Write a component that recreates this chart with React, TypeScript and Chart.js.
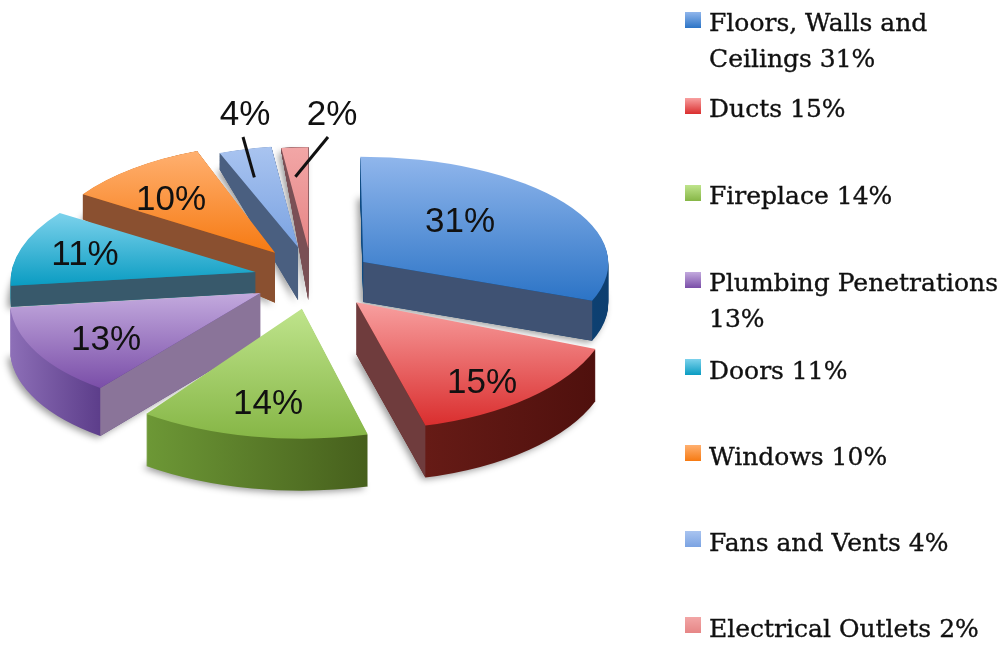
import React, { useEffect, useRef } from "react";
import { Chart, registerables } from "chart.js";

Chart.register(...registerables);

const categories = ["Floors, Walls and Ceilings", "Ducts", "Fireplace", "Plumbing Penetrations", "Doors", "Windows", "Fans and Vents", "Electrical Outlets"];
const shares = [31, 15, 14, 13, 11, 10, 4, 2];

// styling of each slice
const faceTop = ["#90b6ec", "#f8a0a0", "#bfe48c", "#c3aade", "#7cd2ec", "#ffb070", "#a9c4f0", "#f2a6a6"];
const faceBottom = ["#2c74c6", "#da2e2e", "#86b646", "#7a4ea8", "#0a9cc2", "#f67a12", "#7ba3e2", "#e68686"];
const wallColor = ["#3f5273", "#6f3c3d", "#5c7a30", "#8a7499", "#38596b", "#8a5030", "#4a5f80", "#7a5055"];
const rimLeft = ["#0d4a82", "#661b16", "#6d9836", "#8e70b8", "#1c7f9a", "#a85a18", "#4a5f80", "#7a5055"];
const rimRight = ["#0d3f70", "#4f100d", "#465f1c", "#5c3d8a", "#1c7f9a", "#a85a18", "#4a5f80", "#7a5055"];
const explodeBy = [62, 67, 54, 60, 58, 58, 56, 60];
const explodeTilt = [0.43, 0.5, 0.6, 0.52, 0.4, 0.54, 0.55, 0.48];
const sliceRadius = [245, 255, 265, 250, 244, 233, 213, 215];
const sliceShear = [0.012, 0.023, 0, -0.065, -0.079, -0.036, 0, 0];
const tiltTop = [0.43, 0.5, 0.49, 0.47, 0.45, 0.47, 0.475, 0.47];
const tiltBottom = [0.43, 0.5, 0.49, 0.47, 0.45, 0.67, 0.66, 0.7];
const sliceDepth = [40, 52, 52, 48, 21, 50, 53, 52];
const paintOrder = [7, 6, 0, 5, 4, 3, 1, 2];

const pieCentreX = 312;
const pieCentreY = 277;

const labelX = [460, 482, 268, 106, 85, 171, 245, 332];
const labelY = [222, 383, 404, 340, 255, 200, 115, 115];
const leaderSlices = [6, 7];
const leaderFromX = [243, 328];
const leaderFromY = [137, 137];
const leaderRadial = [0.72, 0.71];
const leaderAlong = [0.35, 0.33];

const legendBaseline = [31, 117, 204, 291, 379, 465, 551, 637];
const legendSwatchTop = [12, 98, 185, 272, 359, 445, 531, 617];
const legendLineGap = 36;
const legendFont = '25px "DejaVu Serif"';

const pie3d = {
  id: "pie3d",
  beforeDatasetsDraw(chart: any) {
    const ctx: CanvasRenderingContext2D = chart.ctx;
    const arcs: any[] = chart.getDatasetMeta(0).data;

    const geometry = (i: number) => {
      const a = arcs[i];
      const mid = (a.startAngle + a.endAngle) / 2;
      return {
        a,
        x: pieCentreX + Math.cos(mid) * explodeBy[i],
        y: pieCentreY + Math.sin(mid) * explodeBy[i] * explodeTilt[i],
        rs: sliceRadius[i] / a.outerRadius,
      };
    };

    const paintArc = (i: number, level: number, fill: any, shadow = false) => {
      const { a, x, y, rs } = geometry(i);
      const tilt = tiltTop[i] + (tiltBottom[i] - tiltTop[i]) * level;
      ctx.save();
      ctx.translate(x, y + sliceDepth[i] * level);
      ctx.transform(rs, 0, rs * sliceShear[i], rs * tilt, 0, 0);
      ctx.translate(-a.x, -a.y);
      if (shadow) {
        ctx.shadowColor = "rgba(0,0,0,0.4)";
        ctx.shadowBlur = 7;
        ctx.shadowOffsetX = -3;
        ctx.shadowOffsetY = 2;
      }
      const saved = a.options;
      const opts: any = { ...saved };
      opts.backgroundColor = fill();
      a.options = opts;
      a.draw(ctx);
      a.options = saved;
      ctx.restore();
    };

    const corner = (i: number, angle: number, level: number) => {
      const { x, y } = geometry(i);
      const tilt = tiltTop[i] + (tiltBottom[i] - tiltTop[i]) * level;
      const s = Math.sin(angle) * sliceRadius[i];
      return [x + Math.cos(angle) * sliceRadius[i] + s * sliceShear[i], y + sliceDepth[i] * level + s * tilt];
    };
    const apex = (i: number, level: number) => {
      const { x, y } = geometry(i);
      return [x, y + sliceDepth[i] * level];
    };

    const paintWall = (i: number, angle: number) => {
      const p = [apex(i, 0), corner(i, angle, 0), corner(i, angle, 1), apex(i, 1)];
      ctx.beginPath();
      p.forEach((q, k) => (k ? ctx.lineTo(q[0], q[1]) : ctx.moveTo(q[0], q[1])));
      ctx.closePath();
      ctx.fillStyle = wallColor[i];
      ctx.fill();
    };

    for (const i of paintOrder) {
      const a = arcs[i];
      const R = a.outerRadius;
      const rim = () => {
        let lo = Infinity;
        let hi = -Infinity;
        for (let k = 0; k <= 40; k++) {
          const c = Math.cos(a.startAngle + ((a.endAngle - a.startAngle) * k) / 40);
          lo = Math.min(lo, c);
          hi = Math.max(hi, c);
        }
        const g = ctx.createLinearGradient(a.x + R * lo, 0, a.x + R * hi + 1, 0);
        g.addColorStop(0, rimLeft[i]);
        g.addColorStop(1, rimRight[i]);
        return g;
      };
      const steps = Math.ceil(sliceDepth[i]);
      for (let s = steps; s >= 1; s--) paintArc(i, s / steps, rim, s === steps);
      // only the cut faces that turn towards the viewer are seen
      if (Math.cos(a.endAngle) > 0.001) paintWall(i, a.endAngle);
      if (Math.cos(a.startAngle) < -0.001) paintWall(i, a.startAngle);
      paintArc(i, 0, () => {
        let lo = 0;
        let hi = 0;
        for (let k = 0; k <= 40; k++) {
          const v = Math.sin(a.startAngle + ((a.endAngle - a.startAngle) * k) / 40);
          lo = Math.min(lo, v);
          hi = Math.max(hi, v);
        }
        const g = ctx.createLinearGradient(0, a.y + R * lo, 0, a.y + R * hi);
        g.addColorStop(0, faceTop[i]);
        g.addColorStop(1, faceBottom[i]);
        return g;
      });
    }

    // percentage labels
    ctx.save();
    ctx.fillStyle = "#111";
    ctx.font = '35px "Liberation Sans"';
    ctx.textAlign = "center";
    ctx.textBaseline = "middle";
    shares.forEach((v, i) => ctx.fillText(`${v}%`, labelX[i], labelY[i]));

    // leader lines
    ctx.strokeStyle = "#111";
    ctx.lineWidth = 3;
    leaderSlices.forEach((i, k) => {
      const a = arcs[i];
      const ang = a.startAngle + (a.endAngle - a.startAngle) * leaderAlong[k];
      const { x, y } = geometry(i);
      const tx = x + Math.cos(ang) * sliceRadius[i] * leaderRadial[k];
      const ty = y + Math.sin(ang) * sliceRadius[i] * leaderRadial[k] * tiltTop[i];
      ctx.beginPath();
      ctx.moveTo(leaderFromX[k], leaderFromY[k]);
      ctx.lineTo(tx, ty);
      ctx.stroke();
    });
    ctx.restore();

    // legend
    ctx.save();
    ctx.font = legendFont;
    ctx.textBaseline = "alphabetic";
    ctx.textAlign = "left";
    categories.forEach((name, i) => {
      const top = legendSwatchTop[i];
      const g = ctx.createLinearGradient(0, top, 0, top + 16);
      g.addColorStop(0, faceTop[i]);
      g.addColorStop(1, faceBottom[i]);
      ctx.fillStyle = g;
      ctx.fillRect(685, top, 16, 16);
      const words = `${name} ${shares[i]}%`.split(" ");
      const lines: string[] = [];
      let cur = "";
      for (const w of words) {
        const next = cur ? `${cur} ${w}` : w;
        if (ctx.measureText(next).width > 292 && cur) {
          lines.push(cur);
          cur = w;
        } else cur = next;
      }
      lines.push(cur);
      ctx.fillStyle = "#111";
      ctx.strokeStyle = "#111";
      ctx.lineWidth = 0.35;
      lines.forEach((l, k) => {
        ctx.fillText(l, 709, legendBaseline[i] + k * legendLineGap);
        ctx.strokeText(l, 709, legendBaseline[i] + k * legendLineGap);
      });
    });
    ctx.restore();
    return false;
  },
};

export default function App() {
  const ref = useRef<HTMLCanvasElement>(null);
  useEffect(() => {
    document.body.style.margin = "0";
    document.body.style.background = "#fff";
    const chart = new Chart(ref.current!, {
      type: "pie",
      data: {
        labels: categories,
        datasets: [{ data: shares, radius: 250, borderWidth: 0, backgroundColor: faceBottom } as any],
      },
      options: {
        responsive: false,
        animation: false,
        devicePixelRatio: 1,
        layout: { padding: 0 },
        plugins: { legend: { display: false }, tooltip: { enabled: false } },
      },
      plugins: [pie3d as any],
    });
    return () => chart.destroy();
  }, []);
  return <canvas ref={ref} width={998} height={645} style={{ display: "block", filter: "blur(0.5px)" }} />;
}
